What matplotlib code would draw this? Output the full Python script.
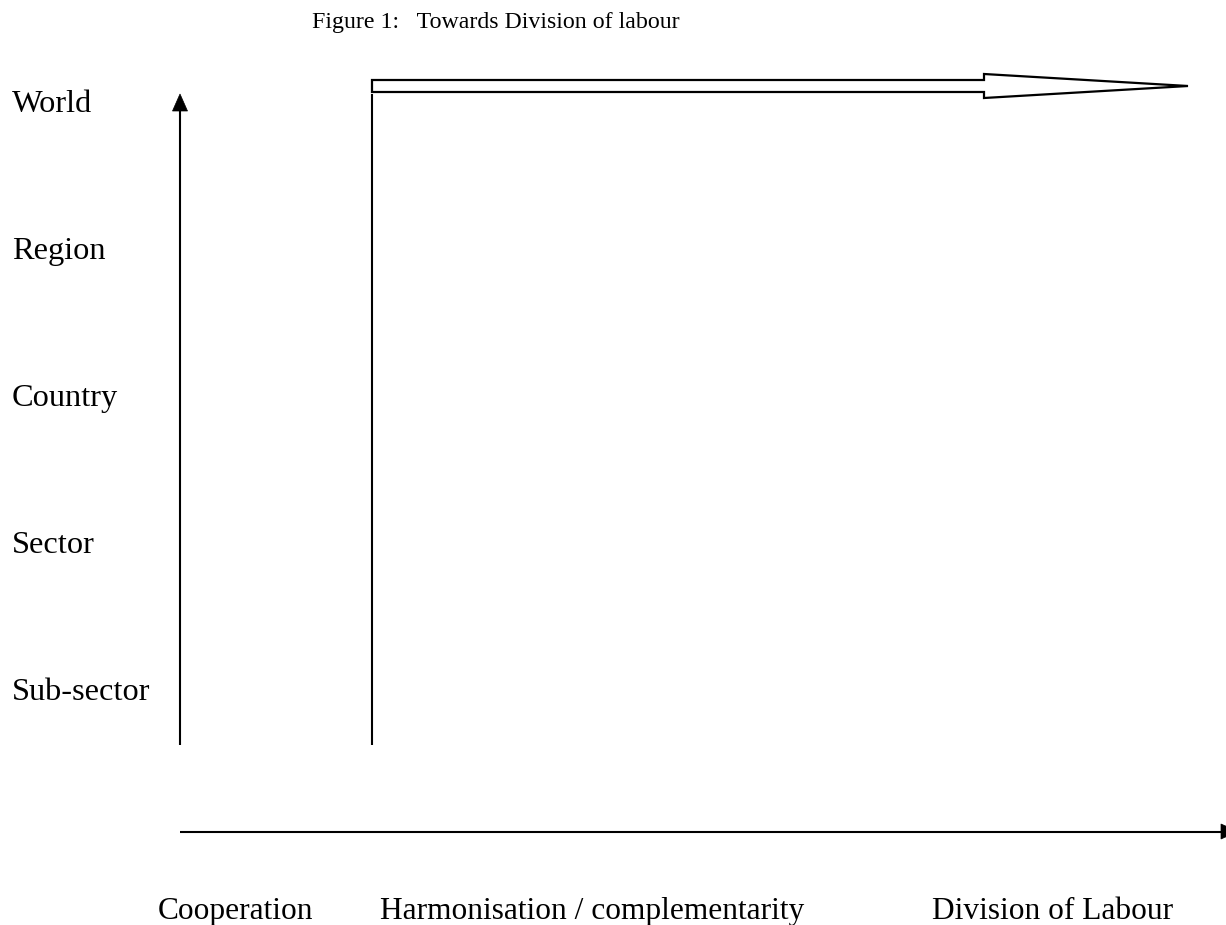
import matplotlib
matplotlib.use("Agg")
import matplotlib.pyplot as plt
from matplotlib.patches import Polygon

title = "Figure 1:   Towards Division of labour"
levels = ["World", "Region", "Country", "Sector", "Sub-sector"]
stages = ["Cooperation", "Harmonisation / complementarity", "Division of Labour"]

W, H = 1226, 925
fig = plt.figure(figsize=(W / 100, H / 100), dpi=100)
ax = fig.add_axes([0, 0, 1, 1])
ax.set_xlim(0, W)
ax.set_ylim(H, 0)
ax.axis("off")

font = "Liberation Serif"
lbl = 23.3

ax.text(312, 28, title, fontsize=17.2, family=font, va="baseline", ha="left")

# level labels
base0, step = 112, 147
for i, name in enumerate(levels):
    ax.text(12, base0 + i * step, name, fontsize=lbl, family=font,
            va="baseline", ha="left")

# stage labels
stage_x = [158, 380, 932]
for x, name in zip(stage_x, stages):
    ax.text(x, 919, name, fontsize=22.6, family=font, va="baseline", ha="left")

lw = 1.5
# vertical axis arrow
ax.plot([180, 180], [745, 110], color="black", lw=lw, solid_capstyle="butt")
ax.add_patch(Polygon([(172.5, 111), (187.5, 111), (180, 94)], closed=True,
                     facecolor="black", edgecolor="black", lw=0.5))

# horizontal axis arrow
ax.plot([180, 1222], [831.5, 831.5], color="black", lw=lw, solid_capstyle="butt")
ax.add_patch(Polygon([(1221, 824), (1221, 839), (1238, 831.5)], closed=True,
                     facecolor="black", edgecolor="black", lw=0.5))

# second vertical line
ax.plot([372, 372], [745, 94], color="black", lw=lw, solid_capstyle="butt")

# hollow block arrow
ax.add_patch(Polygon([(372, 80), (984, 80), (984, 74), (1188, 86),
                      (984, 98), (984, 92), (372, 92)], closed=True,
                     facecolor="white", edgecolor="black", lw=1.6,
                     joinstyle="miter"))

fig.savefig("out.png", dpi=100)
